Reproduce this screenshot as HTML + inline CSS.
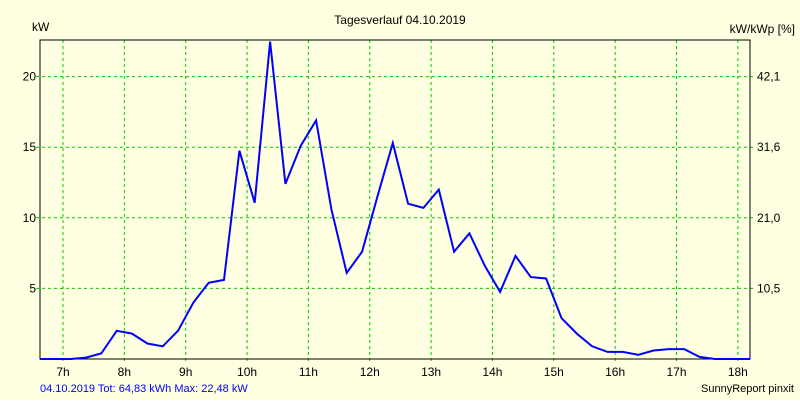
<!DOCTYPE html>
<html><head><meta charset="utf-8"><style>
body{margin:0;background:#fff}
svg text{font-family:"Liberation Sans",sans-serif;font-size:12px;fill:#000}
</style></head><body>
<svg width="800" height="400" viewBox="0 0 800 400">
<rect x="0" y="0" width="800" height="400" fill="#ffffe1"/>
<text x="400" y="24" text-anchor="middle">Tagesverlauf 04.10.2019</text>
<text x="32" y="31">kW</text>
<text x="795" y="33" text-anchor="end">kW/kWp [%]</text>
<g id="grid"></g><g id="axes"></g>
<rect x="40" y="40" width="710" height="319" fill="none" stroke="#000" stroke-width="1"/>
<text x="40" y="392" style="fill:#0000ff;font-size:11px">04.10.2019 Tot: 64,83 kWh Max: 22,48 kW</text>
<text x="794" y="392" text-anchor="end" style="font-size:11px">SunnyReport pinxit</text>
<g id="series"></g>
</svg>
<script>
const hourTicks=[7,8,9,10,11,12,13,14,15,16,17,18];
const kwTicks=[5,10,15,20];
const pctLabels=["10,5","21,0","31,6","42,1"];
const startHour=6.625;
const stepHour=0.25;
const power=[0,0,0,0.1,0.4,2.0,1.8,1.1,0.9,2.0,4.0,5.4,5.6,14.75,11.06,22.48,12.4,15.1,16.9,10.6,6.1,7.6,11.5,15.3,11.0,10.7,12.0,7.6,8.9,6.6,4.75,7.3,5.8,5.7,2.9,1.8,0.9,0.5,0.5,0.3,0.6,0.7,0.7,0.15,0,0,0,0,0];
const X0=40,X1=750,Y0=359,Y1=40;
function xs(h){return 63+(h-7)*61.35;}
function ys(v){return 359-v*14.12;}
const ns="http://www.w3.org/2000/svg";
const grid=document.getElementById('grid'),axes=document.getElementById('axes'),ser=document.getElementById('series');
hourTicks.forEach(h=>{
 const x=xs(h);
 const l=document.createElementNS(ns,'line');
 
 
 l.setAttribute('x1',x);l.setAttribute('x2',x);l.setAttribute('y1',Y1);l.setAttribute('y2',Y0+4);
 l.setAttribute('stroke','#00cc00');l.setAttribute('stroke-dasharray','3,3');
 grid.appendChild(l);
 const t=document.createElementNS(ns,'text');
 
 
 t.setAttribute('x',x);t.setAttribute('y',376);t.setAttribute('text-anchor','middle');
 t.textContent=h+'h';axes.appendChild(t);
});
kwTicks.forEach((v,i)=>{
 const y=ys(v);
 const l=document.createElementNS(ns,'line');
 
 
 l.setAttribute('x1',X0-4);l.setAttribute('x2',X1+4);l.setAttribute('y1',y);l.setAttribute('y2',y);
 l.setAttribute('stroke','#00cc00');l.setAttribute('stroke-dasharray','3,3');
 grid.appendChild(l);
 const t=document.createElementNS(ns,'text');
 
 
 t.setAttribute('x',36);t.setAttribute('y',y+4);t.setAttribute('text-anchor','end');
 t.textContent=v;axes.appendChild(t);
 const r=document.createElementNS(ns,'text');
 
 
 r.setAttribute('x',757);r.setAttribute('y',y+4);
 r.textContent=pctLabels[i];axes.appendChild(r);
});
const pts=power.map((v,i)=>[Math.min(Math.max(xs(startHour+i*stepHour),X0),X1),ys(v)]);
const p=document.createElementNS(ns,'polyline');


p.setAttribute('points',pts.map(a=>a[0].toFixed(1)+','+a[1].toFixed(1)).join(' '));
p.setAttribute('fill','none');p.setAttribute('stroke','#0000ff');p.setAttribute('stroke-width','2');
ser.appendChild(p);
</script>
</body></html>
